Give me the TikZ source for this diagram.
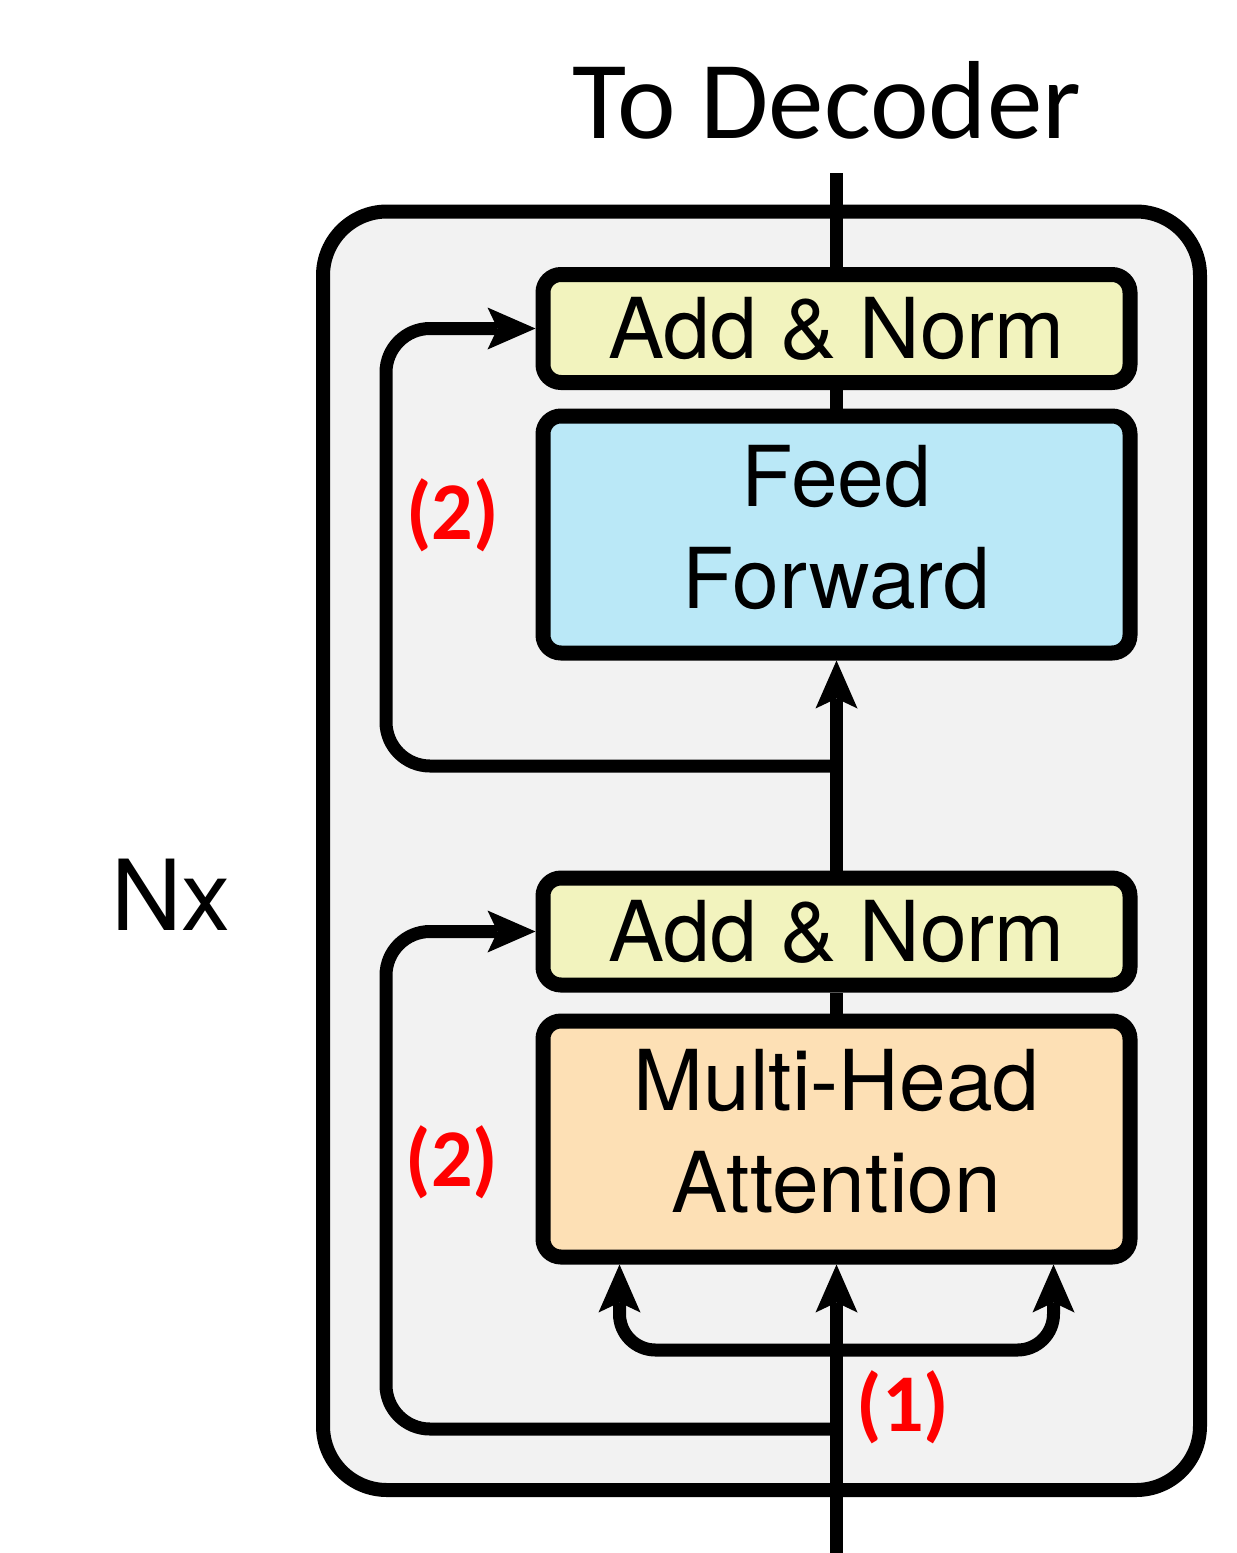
\documentclass[tikz,border=0pt]{standalone}
\usepackage{fontspec}
\setmainfont{TeX Gyre Heros}
\newfontfamily\calibri{Carlito}
\usetikzlibrary{arrows.meta,calc}
\definecolor{bgbox}{RGB}{242,242,242}
\definecolor{anfill}{RGB}{242,243,190}
\definecolor{fffill}{RGB}{186,232,247}
\definecolor{mhafill}{RGB}{253,224,181}
\definecolor{redlbl}{RGB}{255,0,0}
\tikzset{
  blk/.style={draw=black, line width=7.5pt, rounded corners=9pt, minimum width=293.5pt,
    inner sep=0pt, align=center, font=\fontsize{42}{51}\selectfont},
  conn/.style={draw=black, line width=6.5pt},
  tip/.style={-{Stealth[length=24pt,width=21pt,inset=5pt,line width=0pt]}},
  redlab/.style={text=redlbl, font=\calibri\bfseries\fontsize{41}{48}\selectfont,
    inner sep=0pt, anchor=base},
}
\begin{document}
\begin{tikzpicture}[x=0.5pt,y=-0.5pt]
\useasboundingbox (0,0) rectangle (1237,1553);
% outer block
\node[draw=black, fill=bgbox, line width=7pt, rounded corners=32pt,
      minimum width=438.5pt, minimum height=639.25pt] (outer) at (761.5,850.75) {};
% sub-layers
\node[blk, fill=anfill, minimum height=54pt] (an1) at (836.5,328.5) {Add \& Norm};
\node[blk, fill=fffill, minimum height=118.5pt] (ff) at (836.5,534.5)
  {Feed\\Forward\rule[-8pt]{0pt}{8pt}};
\node[blk, fill=anfill, minimum height=53.5pt] (an2) at (836.5,931.5) {Add \& Norm};
\node[blk, fill=mhafill, minimum height=118pt] (mha) at (836.5,1139)
  {Multi-Head\\Attention\rule[-8pt]{0pt}{8pt}};
% helper coordinates
\coordinate (inp) at (836.5,1553);
\coordinate (top) at (836.5,173);
\coordinate (split) at (836.5,1350);
\coordinate (res1) at (836.5,1429);
\coordinate (res2) at (836.5,766);
\coordinate (lane) at (386,0);
% connectors
\draw[conn,tip] (inp) -- (mha.south);
\draw[conn,tip,rounded corners=18pt] (split) -| ([xshift=-108.5pt]mha.south);
\draw[conn,tip,rounded corners=18pt] (split) -| ([xshift=108.5pt]mha.south);
\draw[conn] (mha.north) -- (an2.south);
\draw[conn,tip] (an2.north) -- (ff.south);
\draw[conn] (ff.north) -- (an1.south);
\draw[conn] (an1.north) -- (top);
\draw[conn,tip,rounded corners=22pt] (res1) -| (lane |- an2.west) -- (an2.west);
\draw[conn,tip,rounded corners=22pt] (res2) -| (lane |- an1.west) -- (an1.west);
% labels
\node[font=\calibri\fontsize{55.5}{64}\selectfont, anchor=base, inner sep=0pt] (todec) at (827,138) {To Decoder};
\node[font=\fontsize{49}{58}\selectfont, anchor=base, inner sep=0pt] (nx) at (171,930) {Nx};
\node[redlab] (lab2a) at (452.5,539) {(2)};
\node[redlab] (lab2b) at (452,1186) {(2)};
\node[redlab] (lab1) at (903,1431) {(1)};
\end{tikzpicture}
\end{document}
